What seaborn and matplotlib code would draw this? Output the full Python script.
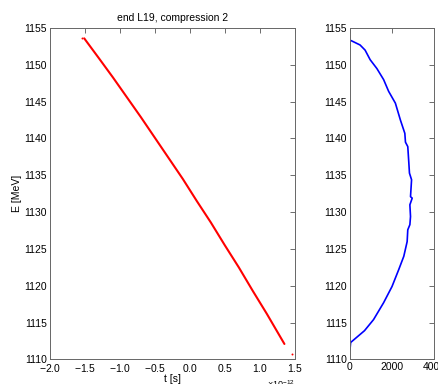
import numpy as np
import pandas as pd
import matplotlib
matplotlib.use("Agg")
import matplotlib.pyplot as plt
import seaborn as sns

# bunch at end of L19: time vs energy (t in seconds)
t_s = [-1.51e-12, -1.3e-12, -1.1e-12, -0.9e-12, -0.7e-12, -0.5e-12, -0.3e-12,
       -0.1e-12, 0.1e-12, 0.3e-12, 0.5e-12, 0.7e-12, 0.9e-12, 1.1e-12, 1.352e-12]
e_mev = [1153.6, 1150.9, 1148.3, 1145.6, 1142.9, 1140.1, 1137.3,
         1134.5, 1131.5, 1128.6, 1125.5, 1122.5, 1119.3, 1116.2, 1112.1]
# stray particles
stray_t = [-1.54e-12, 1.457e-12]
stray_e = [1153.7, 1110.8]

# energy profile (counts per bin)
prof_counts = [0, 32, 690, 1120, 1600, 2000, 2320, 2560, 2720, 2750, 2850, 2880,
               2850, 2960, 2880, 2930, 2830, 2800, 2750, 2640, 2610, 2400, 2160,
               1840, 1600, 1280, 960, 720, 480, 48]
prof_e = [1111.3, 1112.3, 1113.9, 1115.4, 1117.7, 1119.9, 1122.2, 1124.0, 1126.0,
          1127.6, 1128.3, 1129.4, 1131.0, 1131.9, 1132.1, 1134.4, 1135.3, 1136.7,
          1138.9, 1139.5, 1140.7, 1142.5, 1144.8, 1146.4, 1148.0, 1149.5, 1150.7,
          1152.0, 1152.7, 1153.3]

sns.set_style("white")
plt.rcParams["font.family"] = ["Liberation Sans", "DejaVu Sans"]
plt.rcParams["font.size"] = 7.5
plt.rcParams["text.color"] = "black"
plt.rcParams["mathtext.fontset"] = "custom"
plt.rcParams["mathtext.rm"] = "Liberation Sans"

fig = plt.figure(figsize=(4.38, 3.84), dpi=100)
ax1 = fig.add_axes([0.114, 0.064, 0.559, 0.863])
ax2 = fig.add_axes([0.799, 0.064, 0.192, 0.863])

bunch = pd.DataFrame({"t": t_s, "E": e_mev})
sns.lineplot(data=bunch, x="t", y="E", sort=False, color="red", lw=1.5, ax=ax1)
sns.scatterplot(x=stray_t, y=stray_e, color="red", s=2, linewidth=0, ax=ax1)

prof = pd.DataFrame({"n": prof_counts, "E": prof_e})
sns.lineplot(data=prof, x="n", y="E", sort=False, orient="y", color="blue", lw=1.2, ax=ax2)

ax1.set_xlim(-2e-12, 1.5e-12)
ax1.set_xticks(np.arange(-2, 1.6, 0.5) * 1e-12)
ax2.set_xlim(0, 4000)
ax2.set_xticks([0, 2000, 4000])

fmt = matplotlib.ticker.ScalarFormatter(useMathText=True)
fmt.set_powerlimits((0, 0))
ax1.xaxis.set_major_formatter(fmt)

for ax in (ax1, ax2):
    ax.set_ylim(1110, 1155)
    ax.set_yticks(range(1110, 1156, 5))
    ax.tick_params(direction="in", top=True, right=True, length=3.5,
                   width=0.6, color="#555555", labelcolor="black",
                   labelsize=7.5, pad=2)
    for sp in ax.spines.values():
        sp.set_color("#666666")
        sp.set_linewidth(0.7)
    ax.set_xlabel("")
    ax.set_ylabel("")

ax1.set_title("end L19, compression 2", fontsize=7.5, pad=5, color="black")
ax1.set_xlabel("t [s]", labelpad=0, color="black")
ax1.set_ylabel("E [MeV]", labelpad=2, color="black")
ax1.xaxis.get_offset_text().set_fontsize(6.5)

fig.savefig("out.png", dpi=100)
